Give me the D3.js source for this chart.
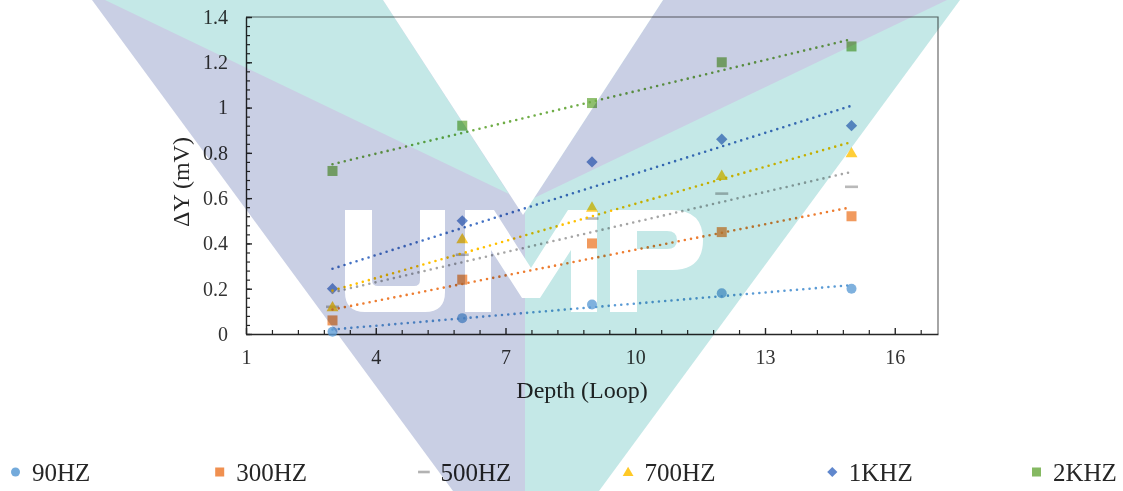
<!DOCTYPE html>
<html>
<head>
<meta charset="utf-8">
<script src="https://cdn.jsdelivr.net/npm/d3@7/dist/d3.min.js"></script>
<style>
  html, body { margin: 0; padding: 0; background: #ffffff; }
  svg { display: block; font-family: "Liberation Serif", "Times New Roman", serif; }
</style>
</head>
<body>
<svg id="chart" width="1123" height="491"></svg>
<script>
// ---- data ----
const depths = [3, 6, 9, 12, 15];
const seriesNames = ["90HZ", "300HZ", "500HZ", "700HZ", "1KHZ", "2KHZ"];
const hz90  = [0.01, 0.07, 0.13, 0.18, 0.20];
const hz300 = [0.06, 0.24, 0.40, 0.45, 0.52];
const hz500 = [0.12, 0.35, 0.51, 0.62, 0.65];
const hz700 = [0.12, 0.42, 0.56, 0.70, 0.80];
const khz1  = [0.20, 0.50, 0.76, 0.86, 0.92];
const khz2  = [0.72, 0.92, 1.02, 1.20, 1.27];
const xTickValues = [1, 4, 7, 10, 13, 16];
const yTickValues = [0, 0.2, 0.4, 0.6, 0.8, 1, 1.2, 1.4];
const xTitle = "Depth (Loop)";
const yTitle = "ΔY (mV)";

const seriesValues = [hz90, hz300, hz500, hz700, khz1, khz2];
const seriesColors = ["#5b9bd5", "#ed7d31", "#a5a5a5", "#ffc000", "#4472c4", "#70ad47"];
const seriesShapes = ["circle", "square", "dash", "triangle", "diamond", "square"];

const series = seriesNames.map((name, i) => ({
  name, color: seriesColors[i], shape: seriesShapes[i],
  points: depths.map((d, j) => ({ x: d, y: seriesValues[i][j] }))
}));

// ---- layout ----
const W = 1123, H = 491;
const plot = { left: 246, right: 938, top: 17, bottom: 334 };

const svg = d3.select("#chart");
const x = d3.scaleLinear().domain([1, 17]).range([plot.left, plot.right]);
const y = d3.scaleLinear().domain([0, 1.4]).range([plot.bottom, plot.top]);

svg.append("rect").attr("width", W).attr("height", H).attr("fill", "#fff");

// plot frame (top and right edges)
svg.append("path")
  .attr("d", `M${plot.left},${plot.top}H${plot.right}V${plot.bottom}`)
  .attr("fill", "none").attr("stroke", "#6b6b6b").attr("stroke-width", 1.2);

// minor ticks
const xMinor = d3.range(1, 17.001, 0.6).filter(v => !xTickValues.includes(Math.round(v * 10) / 10));
const yMinor = d3.range(0, 1.4001, 0.04);
svg.append("g").attr("transform", `translate(0,${plot.bottom})`)
  .call(d3.axisBottom(x).tickValues(xMinor).tickSize(-4).tickFormat(""))
  .call(g => g.select(".domain").remove())
  .call(g => g.selectAll("line").attr("stroke", "#262626").attr("stroke-width", 1.2));
svg.append("g").attr("transform", `translate(${plot.left},0)`)
  .call(d3.axisLeft(y).tickValues(yMinor).tickSize(-4).tickFormat(""))
  .call(g => g.select(".domain").remove())
  .call(g => g.selectAll("line").attr("stroke", "#262626").attr("stroke-width", 1.2));

// major axes
const xAxis = svg.append("g").attr("transform", `translate(0,${plot.bottom})`)
  .call(d3.axisBottom(x).tickValues(xTickValues).tickSize(-6).tickSizeOuter(0).tickPadding(16).tickFormat(d3.format("d")));
const yAxis = svg.append("g").attr("transform", `translate(${plot.left},0)`)
  .call(d3.axisLeft(y).tickValues(yTickValues).tickSize(-6).tickSizeOuter(0).tickPadding(18).tickFormat(d => d3.format("")(+d.toFixed(1))));
[xAxis, yAxis].forEach(g => {
  g.select(".domain").attr("stroke", "#262626").attr("stroke-width", 1.4);
  g.selectAll(".tick line").attr("stroke", "#262626").attr("stroke-width", 1.4);
  g.selectAll(".tick text").attr("fill", "#333").attr("font-size", 20)
    .attr("font-family", "'Liberation Serif','Times New Roman',serif");
});

// axis titles
svg.append("text").attr("x", 582).attr("y", 398).attr("text-anchor", "middle")
  .attr("font-size", 24).attr("fill", "#262626").text(xTitle);
svg.append("text").attr("transform", "translate(189,182) rotate(-90)").attr("text-anchor", "middle")
  .attr("font-size", 24).attr("fill", "#262626").text(yTitle);

// marker drawing
function drawMarker(sel, shape, color, scale, opacity) {
  if (shape === "circle") {
    sel.append("circle").attr("r", 5 * scale).attr("fill", color).attr("fill-opacity", opacity);
  } else if (shape === "square") {
    sel.append("rect").attr("x", -5 * scale).attr("y", -5 * scale)
      .attr("width", 10 * scale).attr("height", 10 * scale).attr("fill", color).attr("fill-opacity", opacity);
  } else if (shape === "dash") {
    sel.append("rect").attr("x", -6.5 * scale).attr("y", -1.3)
      .attr("width", 13 * scale).attr("height", 2.6).attr("fill", color).attr("fill-opacity", opacity);
  } else if (shape === "triangle") {
    sel.append("path").attr("d", d3.symbol(d3.symbolTriangle, 62 * scale * scale)())
      .attr("transform", "translate(0,1)").attr("fill", color).attr("fill-opacity", opacity);
  } else if (shape === "diamond") {
    sel.append("rect").attr("x", -4 * scale).attr("y", -4 * scale)
      .attr("width", 8 * scale).attr("height", 8 * scale).attr("transform", "rotate(45)")
      .attr("fill", color).attr("fill-opacity", opacity);
  }
}

// data markers
series.forEach(s => {
  const g = svg.append("g").attr("class", "series");
  s.points.forEach(p => {
    const m = g.append("g").attr("transform", `translate(${x(p.x)},${y(p.y)})`);
    drawMarker(m, s.shape, s.color, 1, 0.78);
  });
});

// least-squares linear trendlines, dotted
series.forEach(s => {
  const n = s.points.length;
  const mx = d3.mean(s.points, p => p.x), my = d3.mean(s.points, p => p.y);
  const sxy = d3.sum(s.points, p => (p.x - mx) * (p.y - my));
  const sxx = d3.sum(s.points, p => (p.x - mx) ** 2);
  const slope = sxy / sxx, icpt = my - slope * mx;
  const x0 = d3.min(depths), x1 = d3.max(depths);
  svg.append("line")
    .attr("x1", x(x0)).attr("y1", y(icpt + slope * x0))
    .attr("x2", x(x1)).attr("y2", y(icpt + slope * x1))
    .attr("stroke", s.color).attr("stroke-width", 2.6)
    .attr("stroke-linecap", "round").attr("stroke-dasharray", "0 6.3");
});

// legend
const legend = svg.append("g").attr("class", "legend");
series.forEach((s, i) => {
  const cx = 15.5 + i * 204.2;
  const item = legend.append("g").attr("transform", `translate(${cx},472)`);
  drawMarker(item, s.shape, s.color, 0.9, 0.85);
  item.append("text").attr("x", 16.5).attr("y", 9).attr("font-size", 25)
    .attr("fill", "#262626").text(s.name);
});

// background watermark, multiplied over the page
const lavender = "#c9cfe4", teal = "#c4e8e7";
const wmShapes = [
  { fill: lavender, pts: [[92, 0], [525, 0], [525, 491], [453, 491]] },
  { fill: teal,     pts: [[525, 0], [960, 0], [599, 491], [525, 491]] },
  { fill: teal,     pts: [[105, 0], [383, 0], [509, 194]] },
  { fill: lavender, pts: [[663, 0], [947, 0], [534, 198]] },
  { fill: "#ffffff", pts: [[383, 0], [663, 0], [523, 215]] }
];
const wm = svg.append("g").attr("class", "watermark").style("mix-blend-mode", "multiply");
wmShapes.forEach(s => {
  wm.append("path").attr("d", d3.line()(s.pts) + "Z").attr("fill", s.fill);
});
const wmLetters = [
  // U
  "M345,210H372V280Q372,286 378,286H414Q420,286 420,280V210H445V292Q445,312 425,312H365Q345,312 345,292Z",
  // M
  "M465,210H494L531,268L568,210H597V312H571V250L540,298H522L491,250V312H465Z",
  // P
  "M610,210H672Q703,210 703,240Q703,270 672,270H637V312H610ZM637,231V249H667Q677,249 677,240Q677,231 667,231Z"
];
wmLetters.forEach(d => wm.append("path").attr("d", d).attr("fill", "#ffffff").attr("fill-rule", "evenodd"));
</script>
</body>
</html>
